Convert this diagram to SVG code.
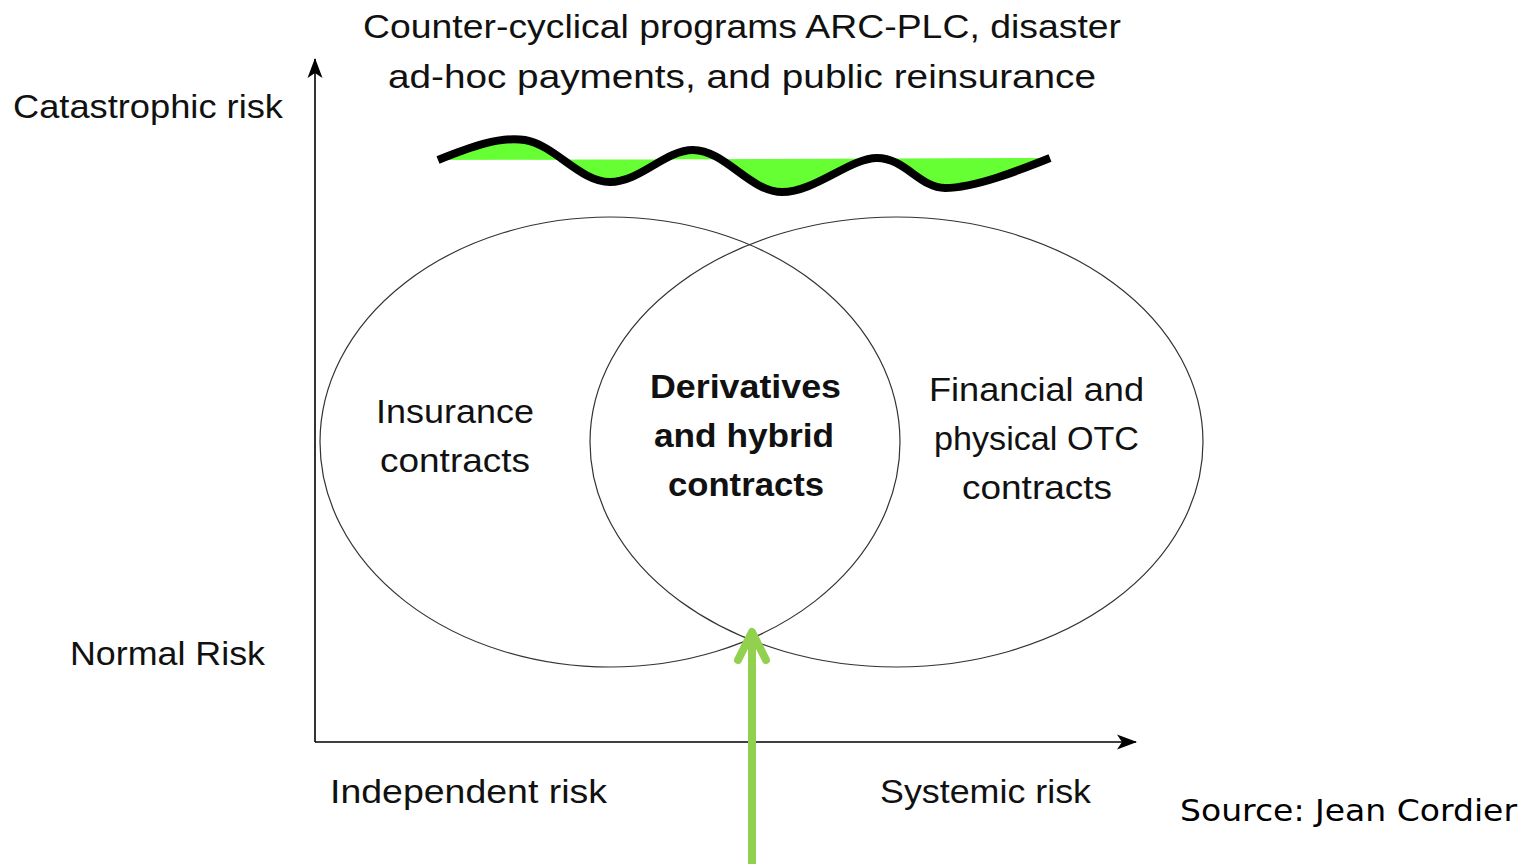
<svg xmlns="http://www.w3.org/2000/svg" width="1535" height="864" viewBox="0 0 1535 864">
<style>
.t{font-family:"Liberation Sans",Arial,sans-serif;font-size:34px;fill:#111}
.b{font-family:"Liberation Sans",Arial,sans-serif;font-size:34px;font-weight:bold;fill:#111}
.s{font-family:"DejaVu Sans",Verdana,sans-serif;font-size:30px;fill:#000}
.ax{stroke:#000;stroke-width:1.6;fill:none}
.el{stroke:#333;stroke-width:1.2;fill:none}
</style>
<defs>
<marker id="ah" viewBox="-20 -8 22 16" refX="0" refY="0" markerWidth="22" markerHeight="16" markerUnits="userSpaceOnUse" orient="auto">
<path d="M1,0 L-19,-7.5 L-14,0 L-19,7.5 Z" fill="#000"/>
</marker>
</defs>
<rect width="1535" height="864" fill="#fff"/>
<g id="title">
<text class="t" x="363" y="38" textLength="758" lengthAdjust="spacingAndGlyphs">Counter-cyclical programs ARC-PLC, disaster</text>
<text class="t" x="388" y="88" textLength="708" lengthAdjust="spacingAndGlyphs">ad-hoc payments, and public reinsurance</text>
</g>
<g id="wave">
<path d="M438,160 C470,147 500,136 525,140 C555,145 580,182 610,182 C640,182 665,150 693,150 C725,150 750,192 782,192 C815,192 850,158 877,158 C905,158 920,188 945,188 C975,188 1020,170 1050,158 Z" fill="#66ff33" stroke="none"/>
<path d="M438,160 C470,147 500,136 525,140 C555,145 580,182 610,182 C640,182 665,150 693,150 C725,150 750,192 782,192 C815,192 850,158 877,158 C905,158 920,188 945,188 C975,188 1020,170 1050,158" fill="none" stroke="#000" stroke-width="8"/>
</g>
<g id="axes">
<line class="ax" x1="315" y1="742" x2="315" y2="59" marker-end="url(#ah)"/>
<line class="ax" x1="315" y1="742" x2="1136" y2="742" marker-end="url(#ah)"/>
</g>
<g id="axis-labels">
<text class="t" x="13" y="118" textLength="270" lengthAdjust="spacingAndGlyphs">Catastrophic risk</text>
<text class="t" x="70" y="665" textLength="195" lengthAdjust="spacingAndGlyphs">Normal Risk</text>
<text class="t" x="330" y="803" textLength="277" lengthAdjust="spacingAndGlyphs">Independent risk</text>
<text class="t" x="880" y="803" textLength="211" lengthAdjust="spacingAndGlyphs">Systemic risk</text>
</g>
<g id="insurance">
<ellipse class="el" cx="610" cy="442" rx="290" ry="225"/>
<text class="t" x="376" y="423" textLength="158" lengthAdjust="spacingAndGlyphs">Insurance</text>
<text class="t" x="380" y="472" textLength="150" lengthAdjust="spacingAndGlyphs">contracts</text>
</g>
<g id="otc">
<ellipse class="el" cx="896.5" cy="442" rx="306.5" ry="225"/>
<text class="t" x="929" y="401" textLength="215" lengthAdjust="spacingAndGlyphs">Financial and</text>
<text class="t" x="934" y="450" textLength="205" lengthAdjust="spacingAndGlyphs">physical OTC</text>
<text class="t" x="962" y="499" textLength="150" lengthAdjust="spacingAndGlyphs">contracts</text>
</g>
<g id="derivatives">
<text class="b" x="650" y="398" textLength="191" lengthAdjust="spacingAndGlyphs">Derivatives</text>
<text class="b" x="654" y="447" textLength="180" lengthAdjust="spacingAndGlyphs">and hybrid</text>
<text class="b" x="668" y="496" textLength="156" lengthAdjust="spacingAndGlyphs">contracts</text>
</g>
<g id="connectors">
<line x1="752" y1="864" x2="752" y2="634" stroke="#92d050" stroke-width="8"/>
<polyline points="738,660 752,632 766,660" fill="none" stroke="#92d050" stroke-width="8" stroke-linecap="round" stroke-linejoin="round"/>
</g>
<g id="source">
<text class="s" x="1180" y="821" textLength="337" lengthAdjust="spacingAndGlyphs">Source: Jean Cordier</text>
</g>
</svg>
